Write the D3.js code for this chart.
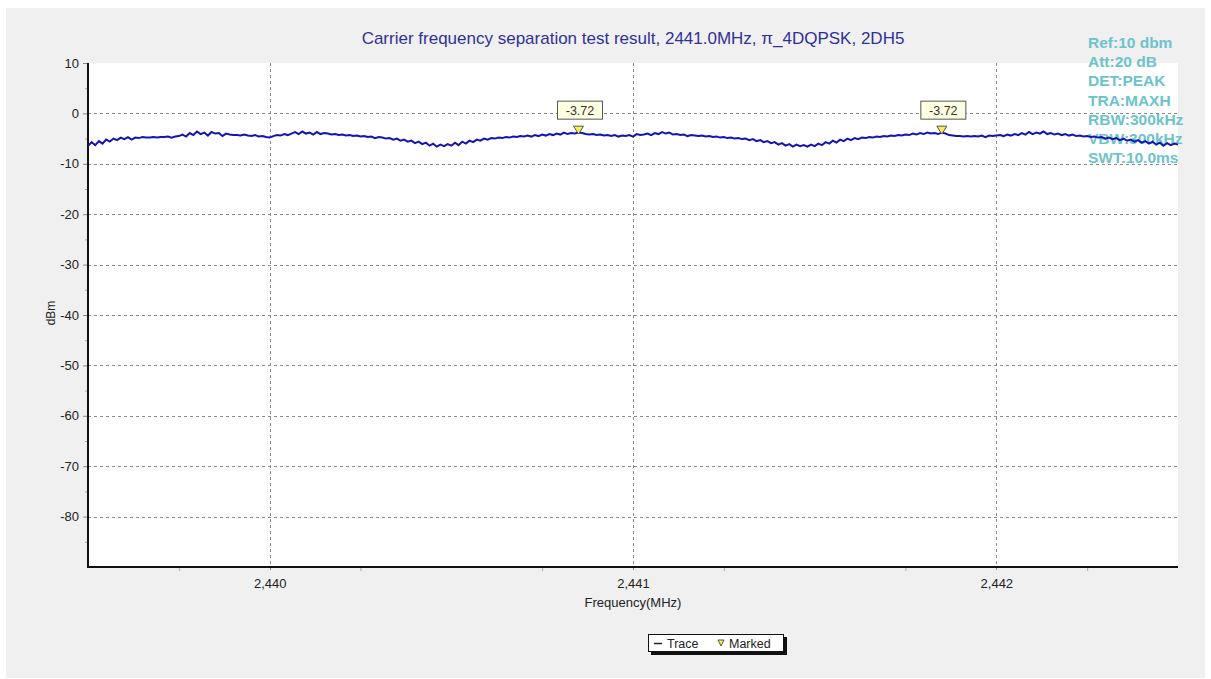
<!DOCTYPE html>
<html>
<head>
<meta charset="utf-8">
<script src="https://cdn.jsdelivr.net/npm/d3@7.9.0/dist/d3.min.js"></script>
<style>
  body { margin: 0; background: #fff; font-family: "Liberation Sans", Arial, sans-serif; }
  svg text { font-family: "Liberation Sans", Arial, sans-serif; }
</style>
</head>
<body>
<svg id="chart" width="1211" height="679"></svg>
<script>
// ---- data ----
const title = 'Carrier frequency separation test result, 2441.0MHz, π_4DQPSK, 2DH5';
const infoLines = ['Ref:10 dbm', 'Att:20 dB', 'DET:PEAK', 'TRA:MAXH', 'RBW:300kHz', 'VBW:300kHz', 'SWT:10.0ms'];

const xTicks = [2440, 2441, 2442];
const xMinorTicks = [2439.75, 2440.25, 2440.75, 2441.25, 2441.75, 2442.25];
const yTicks = [10, 0, -10, -20, -30, -40, -50, -60, -70, -80];

const traceStart = 2439.5;
const traceStep = 0.01;
const traceValues = [
  -6.5, -5.7, -6.3, -5.5, -6.0, -5.2, -5.6, -5.0, -5.3, -4.8, -5.1, -4.7, -5.2, -4.8, -4.9, -4.7, -4.8, -4.8, -4.7, -4.8, -4.7, -4.7, -4.6, -4.8, -4.6,
  -4.5, -4.2, -4.6, -3.9, -4.3, -3.6, -4.1, -3.8, -4.4, -3.7, -4.0, -3.9, -4.5, -4.0, -4.2, -4.3, -4.3, -4.4, -4.2, -4.4, -4.5, -4.3, -4.6, -4.5, -4.7,
  -4.8, -4.5, -4.3, -4.4, -4.1, -4.3, -4.0, -3.7, -4.1, -3.6, -4.0, -3.8, -4.2, -3.7, -4.1, -3.9, -4.0, -4.2, -4.1, -4.3, -4.2, -4.4, -4.3, -4.5, -4.4,
  -4.6, -4.5, -4.7, -4.6, -4.9, -4.7, -4.8, -5.0, -4.9, -5.2, -5.0, -5.4, -5.2, -5.6, -5.4, -5.9, -5.6, -6.1, -5.8, -6.4, -6.0, -6.6, -6.2, -6.5, -6.1,
  -6.4, -5.8, -6.3, -5.6, -6.0, -5.4, -5.7, -5.2, -5.4, -5.0, -5.2, -4.9, -5.0, -4.8, -4.9, -4.7, -4.8, -4.6, -4.7, -4.5, -4.6, -4.4, -4.6, -4.3, -4.5,
  -4.2, -4.4, -4.1, -4.3, -4.0, -4.2, -3.8, -4.1, -3.9, -4.0, -3.8, -3.9, -4.1, -4.2, -4.1, -4.3, -4.2, -4.4, -4.3, -4.5, -4.3, -4.6, -4.4, -4.5, -4.3,
  -4.6, -4.1, -4.3, -4.2, -4.0, -4.3, -3.9, -4.1, -3.7, -4.0, -3.8, -4.2, -4.1, -4.3, -4.2, -4.5, -4.3, -4.4, -4.5, -4.4, -4.6, -4.5, -4.7, -4.6, -4.8,
  -4.7, -4.9, -4.8, -5.0, -4.9, -5.1, -5.0, -5.3, -5.1, -5.5, -5.3, -5.7, -5.5, -5.9, -5.7, -6.2, -5.9, -6.4, -6.1, -6.6, -6.2, -6.5, -6.3, -6.6, -6.2,
  -6.5, -6.0, -6.3, -5.7, -6.0, -5.4, -5.8, -5.2, -5.5, -5.0, -5.3, -4.9, -5.1, -4.8, -4.9, -4.7, -4.8, -4.6, -4.7, -4.5, -4.6, -4.4, -4.5, -4.3, -4.4,
  -4.2, -4.3, -4.0, -4.2, -3.9, -4.1, -3.8, -4.0, -3.9, -4.1, -3.8, -4.0, -4.3, -4.4, -4.5, -4.5, -4.6, -4.5, -4.6, -4.5, -4.6, -4.4, -4.7, -4.4, -4.5,
  -4.4, -4.3, -4.5, -4.2, -4.4, -4.1, -4.3, -3.9, -4.2, -3.7, -4.1, -3.8, -4.0, -3.6, -4.1, -3.9, -4.2, -4.0, -4.3, -4.1, -4.4, -4.2, -4.5, -4.4, -4.6,
  -4.5, -4.7, -4.6, -4.8, -4.7, -5.0, -4.8, -5.1, -4.9, -5.3, -5.0, -5.4, -5.2, -5.6, -5.3, -5.8, -5.5, -6.0, -5.6, -6.2, -5.8, -6.4, -5.9, -6.3, -6.0,
  -6.2
];

const markerFreqs = [2440.85, 2441.85];
const markerValues = [-3.72, -3.72];

// ---- layout ----
const svg = d3.select('#chart');
const plot = { left: 88, top: 63, right: 1178, bottom: 567 };

const x = d3.scaleLinear().domain([2439.5, 2442.5]).range([plot.left, plot.right]);
const y = d3.scaleLinear().domain([-90, 10]).range([plot.bottom, plot.top]);

// outer grey panel
svg.append('rect').attr('x', 6).attr('y', 8).attr('width', 1199).attr('height', 670).attr('fill', '#f0f0f0');
// plot area
svg.append('rect')
  .attr('x', plot.left).attr('y', plot.top)
  .attr('width', plot.right - plot.left).attr('height', plot.bottom - plot.top)
  .attr('fill', '#fff');

// title
svg.append('text')
  .attr('x', 633).attr('y', 44)
  .attr('text-anchor', 'middle')
  .attr('font-size', 17)
  .attr('fill', '#30309a')
  .text(title);

// instrument settings
svg.append('g').selectAll('text')
  .data(infoLines)
  .join('text')
  .attr('x', 1088)
  .attr('y', (d, i) => 48 + i * 19.2)
  .attr('font-size', 15.5)
  .attr('font-weight', 'bold')
  .attr('fill', '#6cc3cb')
  .text(d => d);

// grid
const grid = svg.append('g').attr('stroke', '#8a8a8a').attr('stroke-dasharray', '3,3').attr('stroke-width', 1);
grid.selectAll('.hg')
  .data(yTicks.filter(d => d < 10))
  .join('line')
  .attr('x1', plot.left).attr('x2', plot.right)
  .attr('y1', d => Math.round(y(d)) + 0.5).attr('y2', d => Math.round(y(d)) + 0.5);
grid.selectAll('.vg')
  .data(xTicks)
  .join('line')
  .attr('y1', plot.top).attr('y2', plot.bottom + 6)
  .attr('x1', d => Math.round(x(d)) + 0.5).attr('x2', d => Math.round(x(d)) + 0.5);

// y axis
const yAxis = d3.axisLeft(y).tickValues(yTicks).tickSize(5).tickPadding(4).tickFormat(d => String(d));
const gy = svg.append('g').attr('transform', `translate(${plot.left},0)`).call(yAxis);
gy.select('.domain').remove();
gy.selectAll('line').attr('stroke', '#888');
gy.selectAll('text').attr('font-size', 13).attr('fill', '#222');
const yMinor = d3.axisLeft(y).tickValues(d3.range(-85, 10, 10)).tickSize(3).tickFormat('');
const gym = svg.append('g').attr('transform', `translate(${plot.left},0)`).call(yMinor);
gym.select('.domain').remove();
gym.selectAll('line').attr('stroke', '#aaa');

// x axis
const xAxis = d3.axisBottom(x).tickValues(xTicks).tickSize(0).tickPadding(12).tickFormat(d3.format(','));
const gx = svg.append('g').attr('transform', `translate(0,${plot.bottom})`).call(xAxis);
gx.select('.domain').remove();
gx.selectAll('text').attr('font-size', 13).attr('fill', '#222');
const xMinor = d3.axisBottom(x).tickValues(xMinorTicks).tickSize(4).tickFormat('');
const gxm = svg.append('g').attr('transform', `translate(0,${plot.bottom})`).call(xMinor);
gxm.select('.domain').remove();
gxm.selectAll('line').attr('stroke', '#aaa');

// axis lines
svg.append('line').attr('x1', plot.left).attr('x2', plot.left).attr('y1', plot.top).attr('y2', plot.bottom + 1)
  .attr('stroke', '#111').attr('stroke-width', 2);
svg.append('line').attr('x1', plot.left - 1).attr('x2', plot.right).attr('y1', plot.bottom).attr('y2', plot.bottom)
  .attr('stroke', '#111').attr('stroke-width', 2);

// axis titles
svg.append('text')
  .attr('x', 633).attr('y', 607)
  .attr('text-anchor', 'middle').attr('font-size', 13).attr('fill', '#222')
  .text('Frequency(MHz)');
svg.append('text')
  .attr('transform', 'translate(55,313) rotate(-90)')
  .attr('text-anchor', 'middle').attr('font-size', 12).attr('fill', '#222')
  .text('dBm');

// trace
const line = d3.line()
  .x((d, i) => x(traceStart + i * traceStep))
  .y(d => y(d));
svg.append('path')
  .datum(traceValues)
  .attr('d', line)
  .attr('fill', 'none')
  .attr('stroke', '#1414b4')
  .attr('stroke-width', 2)
  .attr('stroke-linejoin', 'miter');

// markers
const markers = markerFreqs.map((f, i) => ({ f, v: markerValues[i] }));
const mg = svg.append('g').selectAll('g').data(markers).join('g')
  .attr('transform', d => `translate(${x(d.f)},${y(d.v)})`);
mg.append('path')
  .attr('d', 'M-5,-6 L5,-6 L0,2 Z')
  .attr('fill', '#f5f050').attr('stroke', '#555').attr('stroke-width', 1);
mg.append('rect')
  .attr('x', -21).attr('y', -31).attr('width', 45).attr('height', 18)
  .attr('fill', '#ffffe1').attr('stroke', '#555').attr('stroke-width', 1);
mg.append('text')
  .attr('x', 1.5).attr('y', -17.5)
  .attr('text-anchor', 'middle').attr('font-size', 12.5).attr('fill', '#333')
  .text(d => d.v.toFixed(2));

// legend
const lg = svg.append('g').attr('transform', 'translate(648,634)');
lg.append('rect').attr('x', 3).attr('y', 3).attr('width', 136).attr('height', 18).attr('fill', '#111');
lg.append('rect').attr('x', 0.5).attr('y', 0.5).attr('width', 135).attr('height', 17)
  .attr('fill', '#fff').attr('stroke', '#111');
lg.append('line').attr('x1', 6).attr('x2', 14).attr('y1', 9.5).attr('y2', 9.5).attr('stroke', '#222').attr('stroke-width', 1.5);
lg.append('text').attr('x', 19).attr('y', 13.5).attr('font-size', 12.5).attr('fill', '#222').text('Trace');
lg.append('path').attr('d', 'M70,6 L76,6 L73,12 Z').attr('fill', '#f5f050').attr('stroke', '#333').attr('stroke-width', 0.8);
lg.append('text').attr('x', 81).attr('y', 13.5).attr('font-size', 12.5).attr('fill', '#222').text('Marked');
</script>
</body>
</html>
